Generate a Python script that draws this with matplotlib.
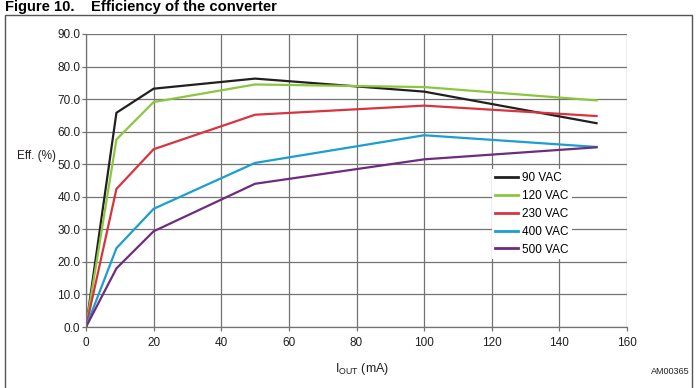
import matplotlib
matplotlib.use("Agg")
import matplotlib.pyplot as plt
from matplotlib.patches import Rectangle

plt.rcParams['font.family'] = ['Liberation Sans', 'DejaVu Sans']

x_ma = [0, 9, 20, 50, 100, 151]
series = {
    "90 VAC": [0, 65.8, 73.2, 76.3, 72.3, 62.6],
    "120 VAC": [0, 57.6, 69.1, 74.5, 73.7, 69.6],
    "230 VAC": [0, 42.4, 54.6, 65.2, 68.0, 64.8],
    "400 VAC": [0, 24.2, 36.3, 50.4, 58.9, 55.3],
    "500 VAC": [0, 18.0, 29.4, 44.0, 51.5, 55.2],
}
colors = ["#231f20", "#8cc63e", "#d8343f", "#1a9fd0", "#6e2c7e"]
xticks = [0, 20, 40, 60, 80, 100, 120, 140, 160]
yticks = [0, 10, 20, 30, 40, 50, 60, 70, 80, 90]

fig = plt.figure(figsize=(6.96, 3.88), dpi=100)
W, H = 696, 388
ax = fig.add_axes([86 / W, 1 - 327 / H, (627 - 86) / W, (327 - 34) / H])

for (name, vals), c in zip(series.items(), colors):
    ax.plot(x_ma, vals, color=c, lw=1.6, label=name, solid_joinstyle='miter')

ax.set_xlim(0, 160)
ax.set_ylim(0, 90)
ax.set_xticks(xticks)
ax.set_yticks(yticks)
ax.set_yticklabels([f"{v:.1f}" for v in yticks])
ax.grid(True, color="#737373", lw=0.9)
ax.set_axisbelow(True)
for s in ["top", "right"]:
    ax.spines[s].set_visible(False)
for s in ["left", "bottom"]:
    ax.spines[s].set_color("#737373")
    ax.spines[s].set_linewidth(0.9)
ax.tick_params(axis='both', labelsize=8.5, colors="#737373", labelcolor="#231f20",
               length=3, width=0.9)
ax.tick_params(axis='y', pad=1)
ax.tick_params(axis='x', pad=4)

leg = ax.legend(loc='upper left', bbox_to_anchor=((492 - 86) / 541, 1 - (169 - 34) / 293),
                frameon=True, fontsize=8.5, handlelength=1.95, handletextpad=0.35,
                labelspacing=0.5, borderpad=0.25, borderaxespad=0, fancybox=False)
leg.get_frame().set_edgecolor("none")
leg.get_frame().set_facecolor("white")
leg.get_frame().set_alpha(1)
for l in leg.get_lines():
    l.set_linewidth(2.0)

fig.text(17 / W, 1 - 156 / H, "Eff. (%)", fontsize=8.5, va='center', ha='left', color="#231f20")
fig.text(362 / W, 1 - 369 / H, r"I$_{\mathregular{OUT}}$ (mA)", fontsize=9, ha='center', va='center',
         color="#231f20")
fig.text(690 / W, 1 - 371 / H, "AM00365", fontsize=6.5, ha='right', va='center', color="#231f20")
fig.text(5 / W, 1 - 11 / H, "Figure 10.    Efficiency of the converter", fontsize=10.6,
         fontweight='bold', ha='left', va='baseline', color="#000000")

fig.patches.append(Rectangle((5 / W, -0.05), (692 - 5) / W, 1 - 15 / H + 0.05,
                             transform=fig.transFigure, fill=False, edgecolor="#555555", lw=1.0))

fig.savefig("out.png", dpi=100)
